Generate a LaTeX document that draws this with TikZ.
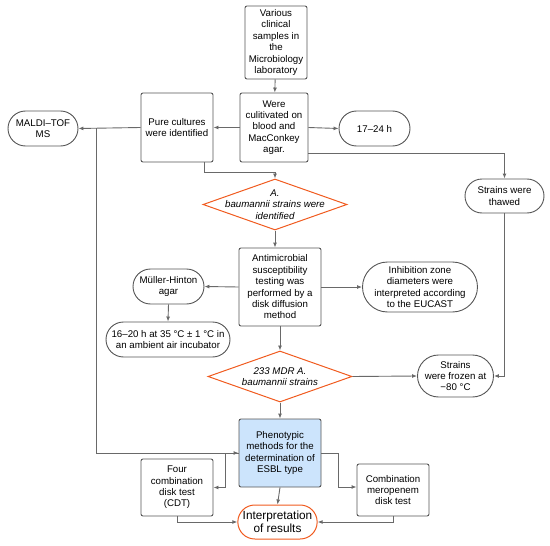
\documentclass[tikz,border=0pt]{standalone}
\usepackage{fontspec}
\setmainfont{Liberation Sans}
\usepackage{tikz}
\usetikzlibrary{shapes.geometric, shapes.misc, arrows.meta}
\definecolor{edge}{RGB}{85,85,85}
\definecolor{linec}{RGB}{105,105,105}
\definecolor{orng}{RGB}{240,90,30}
\definecolor{phenblue}{RGB}{204,228,252}
\tikzset{
  font={\fontsize{9.7pt}{11.4pt}\selectfont},
  box/.style={draw=edge, rounded corners=2pt, align=center, inner sep=1pt, line width=0.9pt},
  term/.style={draw=edge, rounded rectangle, align=center, inner sep=1pt, line width=0.9pt},
  dec/.style={draw=orng, diamond, inner sep=0pt, line width=1pt},
  arr/.style={draw=linec, line width=0.9pt, -{Latex[length=5pt,width=4pt]}}}

\begin{document}
\begin{tikzpicture}[x=1pt,y=-1pt]
\useasboundingbox (0,0) rectangle (550,546);
\node[box, minimum width=62pt, minimum height=73pt] (samples) at (276,42.5)
  {Various\\clinical\\samples in\\the\\Microbiology\\laboratory};
\node[box, minimum width=68pt, minimum height=69pt] (cult) at (274,127.5)
  {Were\\culitivated on\\blood and\\MacConkey\\agar.};
\node[box, minimum width=72pt, minimum height=69pt] (pure) at (177,127.5)
  {Pure cultures\\were identified};
\node[term, minimum width=72pt, minimum height=35pt] (maldi) at (43,128.5)
  {MALDI–TOF\\MS};
\node[term, minimum width=73pt, minimum height=35pt] (hours) at (374.5,128.5)
  {17–24 h};
\node[term, minimum width=81pt, minimum height=34pt] (thawed) at (504.5,196)
  {Strains were\\thawed};
\node[dec, minimum width=144pt, minimum height=51pt,
  label={[align=center, font={\fontsize{9.7pt}{11.4pt}\selectfont\itshape}]center:A.\\baumannii strains were\\identified}]
  (d1) at (275,204.5) {};
\node[box, minimum width=82pt, minimum height=78pt] (ast) at (280,287)
  {Antimicrobial\\susceptibility\\testing was\\performed by a\\disk diffusion\\method};
\node[term, minimum width=73pt, minimum height=35pt] (mh) at (168.5,286.5)
  {Müller-Hinton\\agar};
\node[term, minimum width=126pt, minimum height=35pt] (incub) at (168,339.5)
  {16–20 h at 35 °C ± 1 °C in\\an ambient air incubator};
\node[term, minimum width=110pt, minimum height=50pt] (zone) at (420,287)
  {Inhibition zone\\diameters were\\interpreted according\\to the EUCAST};
\node[dec, minimum width=144pt, minimum height=51pt,
  label={[align=center, font={\fontsize{9.7pt}{11.4pt}\selectfont\itshape}]center:233 MDR A.\\baumannii strains}]
  (d2) at (280,376.5) {};
\node[term, minimum width=73pt, minimum height=42pt] (frozen) at (455.5,376)
  {Strains\\were frozen at\\−80 °C};
\node[box, fill=phenblue, minimum width=82pt, minimum height=68pt] (phen) at (280,453)
  {Phenotypic\\methods for the\\determination of\\ESBL type};
\node[box, minimum width=72pt, minimum height=57pt] (four) at (177,487.5)
  {Four\\combination\\disk test\\(CDT)};
\node[box, minimum width=72pt, minimum height=52pt] (mero) at (393,490)
  {Combination\\meropenem\\disk test};
\node[term, draw=orng, line width=1pt, minimum width=77pt, minimum height=34pt,
  font={\fontsize{11.8pt}{13pt}\selectfont}] (interp) at (277.5,522)
  {Interpretation\\of results};
\coordinate (split) at (96,128);

\draw[arr] (samples) -- (cult);
\draw[arr] (cult.west) -- (pure.east);
\draw[arr] (pure.west) -- (maldi.east);
\draw[arr] (cult.east) -- (hours.west);
\draw[arr] ([yshift=-25.5pt]cult.east) -| (thawed.north);
\draw[arr] ([xshift=27pt]pure.south) -- ++(0,10) -| (d1.north);
\draw[arr] (d1.south) -- (d1.south |- ast.north);
\draw[arr] (ast.west) -- (mh.east);
\draw[arr] (ast.east) -- (zone.west);
\draw[arr] (mh.south) -- (incub.north);
\draw[arr] (ast.south) -- (d2.north);
\draw[arr] (d2.east) -- (frozen.west);
\draw[arr] (thawed.south) |- (frozen.east);
\draw[arr] (d2.south) -- (phen.north);
\draw[arr] (split) |- (phen.west);
\draw[arr] (phen.west) -- ++(-13,0) |- (four.east);
\draw[arr] (phen.east) -- ++(17,0) |- ([yshift=3pt]mero.west);
\draw[arr] (phen.south) -- (interp.north);
\draw[arr] (four.south) |- (interp.west);
\draw[arr] (mero.south) |- (interp.east);
\end{tikzpicture}
\end{document}
